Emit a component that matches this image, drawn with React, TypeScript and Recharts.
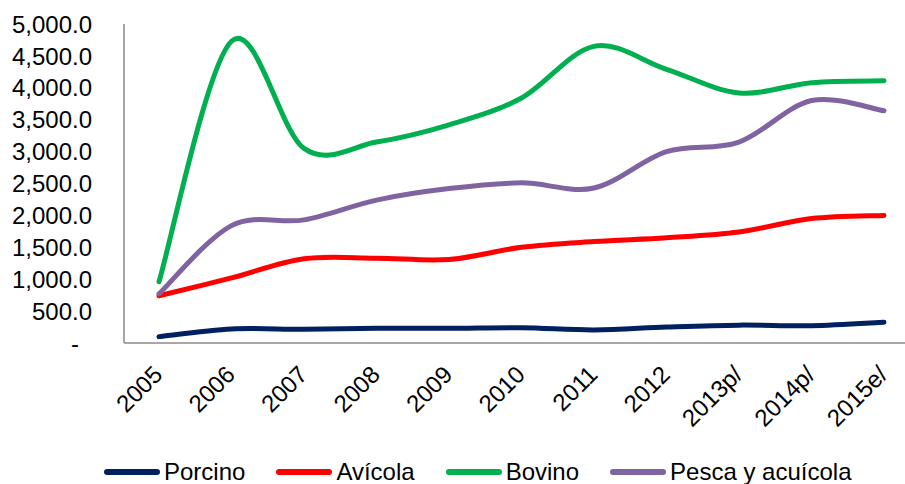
import React from 'react';
import { LineChart, Line, XAxis, YAxis, Legend } from 'recharts';

const categories = ['2005', '2006', '2007', '2008', '2009', '2010', '2011', '2012', '2013p/', '2014p/', '2015e/'];
const porcino = [100, 220, 215, 230, 230, 240, 205, 250, 280, 270, 325];
const avicola = [740, 1020, 1320, 1330, 1310, 1500, 1590, 1650, 1740, 1950, 2000];
const bovino = [960, 4730, 3050, 3150, 3420, 3840, 4650, 4290, 3920, 4080, 4110];
const pesca = [770, 1840, 1930, 2240, 2420, 2510, 2430, 3000, 3150, 3800, 3640];
const yTicks = [0, 500, 1000, 1500, 2000, 2500, 3000, 3500, 4000, 4500, 5000];

const seriesList = [
  { key: 'porcino', name: 'Porcino', color: '#002060', values: porcino },
  { key: 'avicola', name: 'Avícola', color: '#FF0000', values: avicola },
  { key: 'bovino', name: 'Bovino', color: '#00B050', values: bovino },
  { key: 'pesca', name: 'Pesca y acuícola', color: '#8064A2', values: pesca },
];

const data = categories.map((c, i) => {
  const row: any = { name: c };
  seriesList.forEach((s) => { row[s.key] = s.values[i]; });
  return row;
});

const FONT = "'Liberation Sans', Arial, sans-serif";

// Excel-like smoothing (Catmull-Rom style Bezier)
function excelCurve(context: any) {
  let pts: number[][] = [];
  return {
    areaStart() {},
    areaEnd() {},
    lineStart() { pts = []; },
    point(x: number, y: number) { pts.push([+x, +y]); },
    lineEnd() {
      if (!pts.length) return;
      context.moveTo(pts[0][0], pts[0][1]);
      for (let i = 0; i < pts.length - 1; i++) {
        const p0 = pts[i - 1] || pts[i];
        const p1 = pts[i];
        const p2 = pts[i + 1];
        const p3 = pts[i + 2] || pts[i + 1];
        const c1x = p1[0] + (p2[0] - p0[0]) / 6;
        const c1y = p1[1] + (p2[1] - p0[1]) / 6;
        const c2x = p2[0] - (p3[0] - p1[0]) / 6;
        const c2y = p2[1] - (p3[1] - p1[1]) / 6;
        context.bezierCurveTo(c1x, c1y, c2x, c2y, p2[0], p2[1]);
      }
    },
  };
}

const fmt = (v: number) =>
  v.toLocaleString('en-US', { minimumFractionDigits: 1, maximumFractionDigits: 1 });

const YTick = (props: any) => {
  const { x, y, payload } = props;
  const v = payload.value;
  return (
    <text x={v === 0 ? x - 13 : x} y={y} dy="0.36em" textAnchor="end" fill="#000" fontSize={24} fontFamily={FONT}>
      {v === 0 ? '-' : fmt(v)}
    </text>
  );
};

const XTick = (props: any) => {
  const { x, y, payload } = props;
  const ax = x + 5;
  const ay = y + 33;
  return (
    <text x={ax} y={ay} textAnchor="end" fill="#000" fontSize={24} fontFamily={FONT} transform={`rotate(-45, ${ax}, ${ay})`}>
      {payload.value}
    </text>
  );
};

const LegendContent = () => (
  <div style={{ display: 'flex', alignItems: 'center', paddingLeft: 104, fontFamily: FONT, fontSize: 24, color: '#000', height: 40 }}>
    {seriesList.map((s, i) => (
      <div key={s.key} style={{ display: 'flex', alignItems: 'center', marginRight: i < seriesList.length - 1 ? 31 : 0 }}>
        <span style={{ display: 'inline-block', width: 56, height: 6, borderRadius: 3, background: s.color, marginRight: 4 }} />
        <span style={{ lineHeight: '24px' }}>{s.name}</span>
      </div>
    ))}
  </div>
);

export default function App() {
  return (
    <div style={{ position: 'absolute', left: 0, top: 0, width: 905, height: 484, background: '#fff' }}>
      <LineChart width={905} height={484} data={data} margin={{ top: 24, right: 0, left: 0, bottom: 0 }}>
        <XAxis
          dataKey="name"
          interval={0}
          padding={{ left: 35, right: 21 }}
          tick={<XTick />}
          tickLine={false}
          tickSize={0}
          tickMargin={0}
          height={101}
          axisLine={{ stroke: '#8a8a8a', strokeWidth: 1.5 }}
        />
        <YAxis
          domain={[0, 5000]}
          ticks={yTicks}
          interval={0}
          width={124}
          tick={<YTick />}
          tickLine={false}
          tickSize={0}
          tickMargin={32}
          axisLine={{ stroke: '#8a8a8a', strokeWidth: 1.5 }}
        />
        <Legend
          verticalAlign="bottom"
          content={<LegendContent />}
          wrapperStyle={{ left: 0, width: 905, height: 40, bottom: 'auto', top: 452 }}
        />
        {seriesList.map((s) => (
          <Line
            key={s.key}
            dataKey={s.key}
            name={s.name}
            stroke={s.color}
            strokeWidth={5}
            strokeLinecap="round"
            type={excelCurve as any}
            dot={false}
            activeDot={false}
            isAnimationActive={false}
          />
        ))}
      </LineChart>
    </div>
  );
}
